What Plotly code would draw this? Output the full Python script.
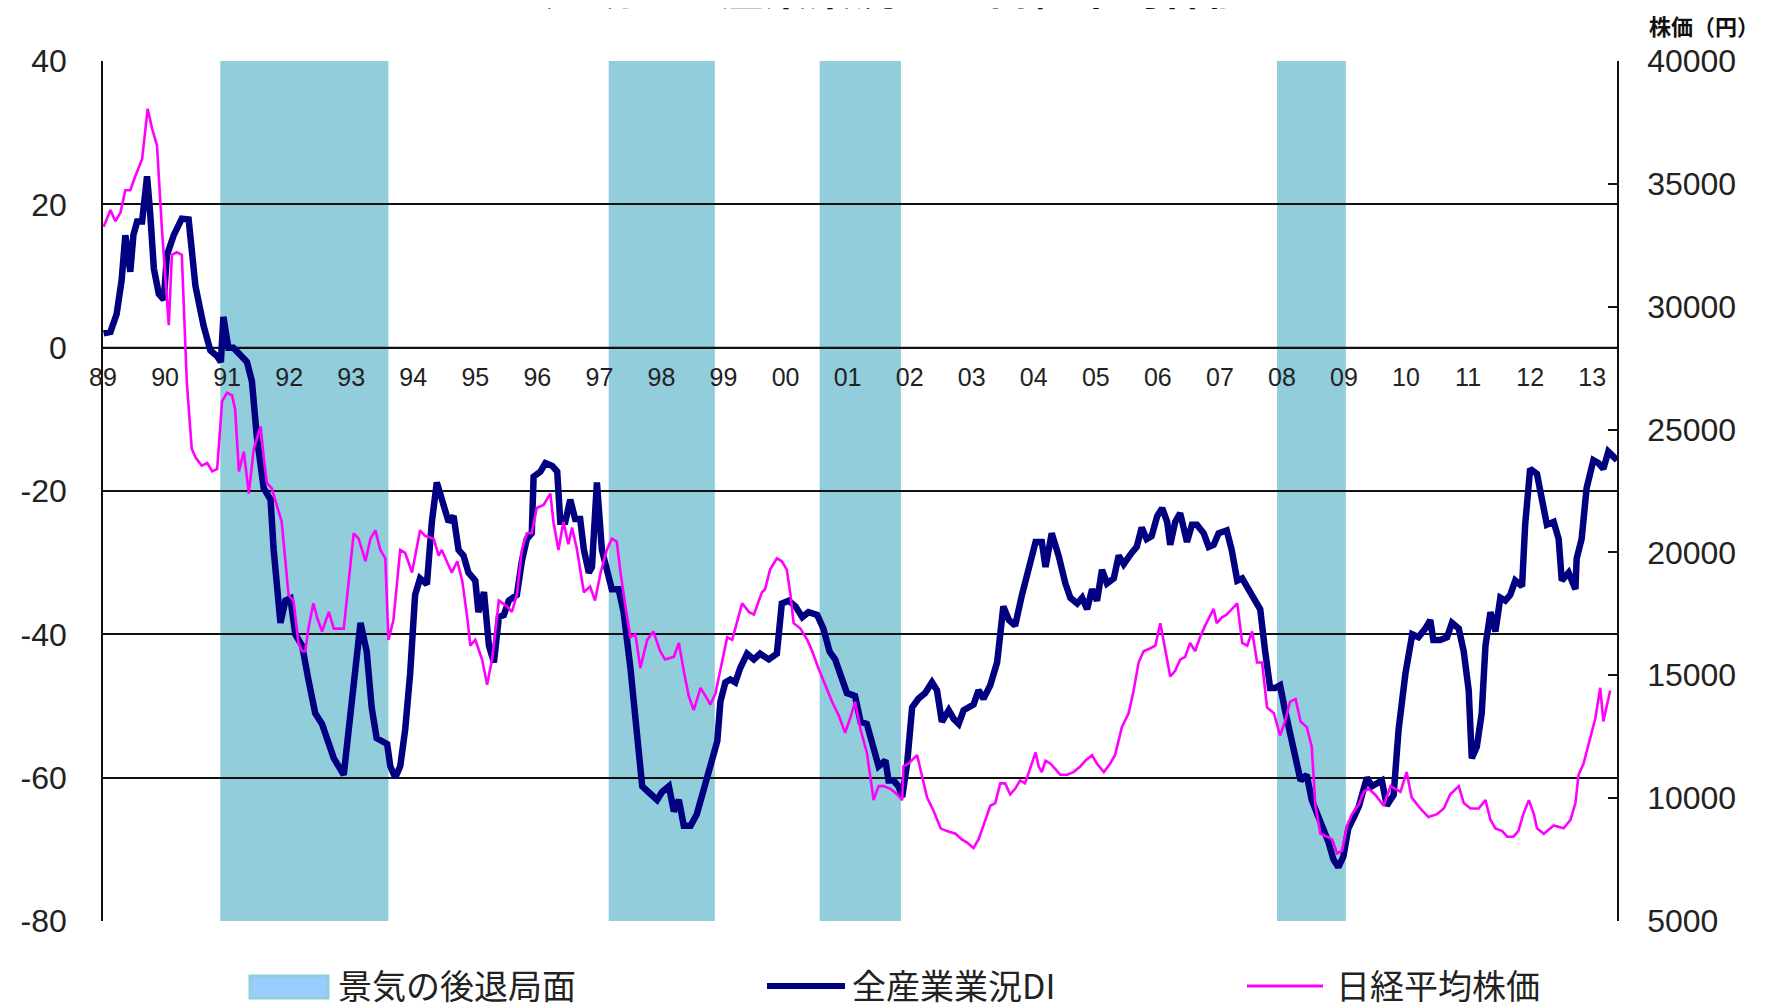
import plotly.graph_objects as go

# ---------------- data ----------------
di_year = [1989.01, 1989.12, 1989.22, 1989.30, 1989.36, 1989.44, 1989.49, 1989.55, 1989.63, 1989.71,
           1989.76, 1989.82, 1989.90, 1989.98, 1990.03, 1990.14, 1990.27, 1990.38, 1990.49, 1990.62,
           1990.73, 1990.84, 1990.90, 1990.94, 1991.02, 1991.10, 1991.21, 1991.32, 1991.40, 1991.48,
           1991.59, 1991.70, 1991.75, 1991.86, 1991.94, 1992.02, 1992.10, 1992.21, 1992.31, 1992.42,
           1992.53, 1992.72, 1992.88, 1993.01, 1993.15, 1993.25, 1993.33, 1993.41, 1993.58, 1993.63,
           1993.71, 1993.79, 1993.87, 1993.95, 1994.03, 1994.11, 1994.22, 1994.30, 1994.38, 1994.49,
           1994.57, 1994.65, 1994.73, 1994.81, 1994.89, 1995.00, 1995.05, 1995.14, 1995.22, 1995.30,
           1995.38, 1995.46, 1995.54, 1995.67, 1995.75, 1995.83, 1995.91, 1995.94, 1996.05, 1996.13,
           1996.24, 1996.32, 1996.37, 1996.45, 1996.53, 1996.61, 1996.69, 1996.75, 1996.83, 1996.88,
           1996.96, 1997.04, 1997.12, 1997.20, 1997.31, 1997.39, 1997.50, 1997.58, 1997.69, 1997.79,
           1997.93, 1998.01, 1998.12, 1998.20, 1998.28, 1998.36, 1998.47, 1998.57, 1998.68, 1998.81,
           1998.90, 1998.95, 1999.03, 1999.11, 1999.19, 1999.27, 1999.38, 1999.49, 1999.59, 1999.73,
           1999.86, 1999.94, 2000.05, 2000.16, 2000.27, 2000.37, 2000.51, 2000.61, 2000.71, 2000.80,
           2000.91, 2000.99, 2001.12, 2001.21, 2001.31, 2001.42, 2001.50, 2001.61, 2001.66, 2001.74,
           2001.82, 2001.88, 2001.96, 2002.04, 2002.14, 2002.25, 2002.36, 2002.44, 2002.52, 2002.63,
           2002.71, 2002.79, 2002.87, 2003.03, 2003.11, 2003.19, 2003.30, 2003.41, 2003.51, 2003.60,
           2003.70, 2003.81, 2003.95, 2004.03, 2004.13, 2004.19, 2004.29, 2004.40, 2004.51, 2004.59,
           2004.70, 2004.78, 2004.86, 2004.94, 2005.02, 2005.10, 2005.18, 2005.29, 2005.37, 2005.45,
           2005.58, 2005.66, 2005.74, 2005.82, 2005.90, 2005.99, 2006.07, 2006.15, 2006.20, 2006.28,
           2006.36, 2006.47, 2006.55, 2006.63, 2006.74, 2006.82, 2006.90, 2006.98, 2007.11, 2007.19,
           2007.28, 2007.36, 2007.46, 2007.54, 2007.65, 2007.73, 2007.81, 2007.89, 2007.97, 2008.05,
           2008.14, 2008.22, 2008.30, 2008.40, 2008.48, 2008.59, 2008.67, 2008.75, 2008.83, 2008.91,
           2008.99, 2009.07, 2009.16, 2009.24, 2009.32, 2009.37, 2009.45, 2009.53, 2009.61, 2009.69,
           2009.80, 2009.88, 2009.99, 2010.10, 2010.20, 2010.31, 2010.39, 2010.44, 2010.55, 2010.66,
           2010.74, 2010.85, 2010.93, 2011.01, 2011.06, 2011.14, 2011.22, 2011.28, 2011.36, 2011.44,
           2011.52, 2011.60, 2011.68, 2011.76, 2011.87, 2011.92, 2012.00, 2012.11, 2012.22, 2012.27,
           2012.38, 2012.46, 2012.51, 2012.62, 2012.73, 2012.75, 2012.83, 2012.91, 2013.02, 2013.10,
           2013.18, 2013.26, 2013.40]
di_value = [2.0, 2.2, 4.7, 9.4, 15.7, 10.6, 15.7, 17.6, 17.6, 23.9,
            18.8, 11.0, 7.5, 6.7, 12.9, 15.7, 18.0, 17.9, 8.6, 3.1,
            -0.4, -1.2, -2.0, 4.3, 0.0, 0.0, -1.0, -2.0, -4.7, -12.5,
            -19.6, -21.2, -28.2, -38.4, -35.3, -35.0, -40.0, -41.6, -46.3, -51.0,
            -52.5, -57.3, -59.6, -49.4, -38.4, -42.4, -50.2, -54.5, -55.3, -58.4,
            -60.0, -58.4, -53.3, -45.5, -34.5, -32.2, -33.0, -24.3, -18.8, -22.0,
            -24.3, -23.5, -28.2, -29.0, -31.4, -32.5, -36.9, -34.1, -41.6, -43.9,
            -37.6, -37.3, -35.3, -34.5, -29.8, -26.7, -25.9, -18.0, -17.3, -16.1,
            -16.5, -17.3, -24.3, -24.3, -21.2, -23.9, -23.9, -28.2, -31.4, -30.6,
            -18.8, -28.2, -31.4, -33.7, -33.7, -36.9, -44.7, -51.0, -61.2, -62.0,
            -63.1, -62.0, -61.2, -64.7, -63.1, -66.7, -66.7, -65.1, -61.6, -57.6,
            -54.9, -49.4, -46.7, -46.3, -46.7, -44.7, -42.7, -43.5, -42.7, -43.5,
            -42.7, -35.7, -35.3, -36.1, -37.6, -36.9, -37.3, -39.2, -42.4, -43.5,
            -46.3, -48.2, -48.6, -52.2, -52.5, -55.7, -58.4, -57.6, -60.4, -60.4,
            -61.2, -62.7, -58.0, -50.2, -49.0, -48.2, -46.7, -47.8, -52.2, -50.6,
            -51.8, -52.5, -50.6, -49.8, -47.8, -49.0, -47.1, -43.9, -36.1, -38.0,
            -38.8, -34.5, -29.4, -27.1, -27.1, -30.6, -25.9, -29.0, -32.9, -34.9,
            -35.7, -34.9, -36.5, -33.7, -35.3, -31.0, -32.9, -32.2, -29.0, -30.2,
            -28.6, -27.8, -25.1, -26.7, -26.3, -23.5, -22.4, -24.3, -27.5, -24.3,
            -23.1, -27.1, -24.7, -24.7, -25.9, -27.8, -27.5, -25.9, -25.5, -28.2,
            -32.5, -32.2, -33.7, -34.9, -36.5, -42.4, -47.5, -47.5, -47.1, -50.6,
            -54.1, -56.5, -60.4, -59.6, -63.1, -65.5, -67.1, -69.0, -71.4, -72.5,
            -71.0, -67.1, -65.5, -64.0, -61.5, -60.0, -61.2, -60.8, -60.4, -63.9,
            -62.4, -53.3, -45.5, -40.0, -40.4, -39.2, -38.0, -40.8, -40.8, -40.4,
            -38.4, -39.2, -42.4, -47.8, -57.3, -55.7, -51.0, -41.6, -36.9, -39.6,
            -34.9, -35.3, -34.5, -32.5, -33.3, -24.7, -16.9, -17.6, -22.0, -24.7,
            -24.3, -26.7, -32.5, -31.4, -33.7, -29.4, -26.7, -19.6, -15.7, -16.1,
            -16.9, -14.5, -15.7]

nikkei_year = [1989.01, 1989.12, 1989.20, 1989.28, 1989.36, 1989.44, 1989.52, 1989.63, 1989.72, 1989.79,
               1989.87, 1989.95, 1990.06, 1990.11, 1990.19, 1990.27, 1990.35, 1990.43, 1990.49, 1990.59,
               1990.68, 1990.76, 1990.84, 1990.92, 1991.00, 1991.08, 1991.13, 1991.19, 1991.27, 1991.35,
               1991.43, 1991.54, 1991.59, 1991.64, 1991.72, 1991.80, 1991.88, 1991.94, 1991.99, 1992.07,
               1992.15, 1992.21, 1992.26, 1992.31, 1992.39, 1992.45, 1992.53, 1992.64, 1992.72, 1992.88,
               1992.96, 1993.04, 1993.12, 1993.23, 1993.31, 1993.39, 1993.47, 1993.55, 1993.60, 1993.68,
               1993.79, 1993.87, 1993.98, 1994.11, 1994.19, 1994.33, 1994.41, 1994.46, 1994.54, 1994.62,
               1994.71, 1994.79, 1994.87, 1994.92, 1995.00, 1995.11, 1995.19, 1995.27, 1995.38, 1995.51,
               1995.59, 1995.67, 1995.75, 1995.83, 1995.91, 1995.99, 1996.10, 1996.21, 1996.26, 1996.34,
               1996.42, 1996.50, 1996.56, 1996.64, 1996.75, 1996.85, 1996.93, 1997.02, 1997.12, 1997.20,
               1997.28, 1997.34, 1997.42, 1997.50, 1997.58, 1997.66, 1997.77, 1997.87, 1997.98, 1998.06,
               1998.20, 1998.28, 1998.36, 1998.44, 1998.52, 1998.63, 1998.71, 1998.79, 1998.87, 1998.98,
               1999.06, 1999.14, 1999.24, 1999.30, 1999.41, 1999.49, 1999.57, 1999.62, 1999.67, 1999.75,
               1999.86, 1999.94, 2000.02, 2000.08, 2000.13, 2000.24, 2000.35, 2000.43, 2000.53, 2000.64,
               2000.75, 2000.86, 2000.96, 2001.04, 2001.12, 2001.21, 2001.31, 2001.42, 2001.50, 2001.58,
               2001.69, 2001.80, 2001.88, 2001.90, 2001.98, 2002.12, 2002.20, 2002.28, 2002.39, 2002.50,
               2002.60, 2002.74, 2002.84, 2002.92, 2003.03, 2003.11, 2003.19, 2003.30, 2003.38, 2003.46,
               2003.54, 2003.62, 2003.70, 2003.78, 2003.86, 2003.95, 2004.03, 2004.08, 2004.13, 2004.19,
               2004.27, 2004.35, 2004.43, 2004.54, 2004.64, 2004.75, 2004.83, 2004.94, 2005.02, 2005.13,
               2005.23, 2005.31, 2005.42, 2005.53, 2005.61, 2005.69, 2005.77, 2005.88, 2005.96, 2006.04,
               2006.12, 2006.20, 2006.28, 2006.36, 2006.44, 2006.52, 2006.60, 2006.68, 2006.76, 2006.85,
               2006.90, 2006.95, 2007.03, 2007.11, 2007.19, 2007.28, 2007.36, 2007.44, 2007.52, 2007.60,
               2007.68, 2007.76, 2007.87, 2007.97, 2008.05, 2008.13, 2008.22, 2008.30, 2008.40, 2008.48,
               2008.54, 2008.62, 2008.73, 2008.81, 2008.89, 2008.97, 2009.05, 2009.13, 2009.24, 2009.32,
               2009.40, 2009.50, 2009.64, 2009.75, 2009.83, 2009.91, 2010.01, 2010.09, 2010.23, 2010.36,
               2010.50, 2010.61, 2010.71, 2010.85, 2010.93, 2011.04, 2011.17, 2011.28, 2011.36, 2011.44,
               2011.55, 2011.63, 2011.73, 2011.81, 2011.89, 2011.98, 2012.06, 2012.11, 2012.22, 2012.38,
               2012.54, 2012.65, 2012.73, 2012.78, 2012.86, 2012.94, 2013.05, 2013.13, 2013.18, 2013.29]
nikkei_value = [33250, 33940, 33480, 33820, 34740, 34740, 35310, 36000, 38060, 37260,
                36570, 33140, 29250, 32110, 32220, 32110, 26960, 24220, 23870, 23530,
                23640, 23300, 23400, 26160, 26500, 26390, 25820, 23300, 24100, 22390,
                24220, 25130, 23870, 22840, 22610, 21930, 21240, 19640, 18270, 18040,
                16320, 15980, 15980, 16900, 17930, 17350, 16780, 17580, 16900, 16900,
                18950, 20780, 20560, 19640, 20560, 20900, 20100, 19760, 16440, 17240,
                20100, 19980, 19180, 20900, 20670, 20560, 19870, 20100, 19640, 19180,
                19640, 18840, 17350, 16210, 16440, 15640, 14610, 15640, 18040, 17810,
                17580, 18270, 20100, 20780, 20780, 21810, 21930, 22390, 21240, 20100,
                21240, 20330, 21010, 20100, 18380, 18610, 18040, 19180, 20100, 20560,
                20440, 19180, 17810, 16550, 16670, 15290, 16440, 16780, 15980, 15640,
                15750, 16320, 15180, 14150, 13580, 14490, 14150, 13810, 14260, 15520,
                16550, 16440, 17350, 17930, 17580, 17470, 18040, 18380, 18500, 19300,
                19760, 19640, 19300, 18270, 17120, 16900, 16440, 15980, 15290, 14610,
                13920, 13350, 12660, 13240, 13920, 12780, 11860, 9920, 10490, 10490,
                10380, 10150, 9920, 11290, 11400, 11750, 10950, 10030, 9460, 8770,
                8660, 8550, 8320, 8200, 7970, 8320, 8890, 9690, 9800, 10600,
                10600, 10150, 10380, 10720, 10600, 11290, 11860, 11290, 11060, 11520,
                11400, 11180, 10950, 10950, 11060, 11290, 11520, 11750, 11400, 11060,
                11400, 11750, 12890, 13460, 14380, 15520, 15980, 16100, 16210, 17120,
                15980, 14950, 15180, 15640, 15750, 16320, 15980, 16550, 17010, 17470,
                17700, 17120, 17350, 17470, 17700, 17930, 16320, 16210, 16780, 15520,
                15520, 13690, 13460, 12550, 13120, 13920, 14040, 13120, 12890, 12090,
                9690, 8550, 8430, 8320, 7750, 7860, 8890, 9350, 9750, 10260,
                10380, 10150, 9690, 10490, 10380, 10260, 11060, 10030, 9580, 9230,
                9350, 9580, 10150, 10490, 9800, 9580, 9580, 9920, 9120, 8770,
                8660, 8430, 8430, 8660, 9350, 9920, 9350, 8770, 8550, 8890,
                8770, 9120, 9800, 10950, 11400, 12210, 13240, 14490, 13120, 14380]

# recession periods (start, end) in decimal years as drawn
recession_start = [1990.89, 1997.15, 2000.55, 2007.92]
recession_end = [1993.60, 1998.86, 2001.86, 2009.03]

year_ticks = list(range(1989, 2014))
year_labels = ["89", "90", "91", "92", "93", "94", "95", "96", "97", "98", "99", "00", "01",
               "02", "03", "04", "05", "06", "07", "08", "09", "10", "11", "12", "13"]

di_ticks = [-80, -60, -40, -20, 0, 20, 40]
di_labels = ["-80", "-60", "-40", "-20", "0", "20", "40"]
nikkei_ticks = [5000, 10000, 15000, 20000, 25000, 30000, 35000, 40000]
nikkei_labels = ["5000", "10000", "15000", "20000", "25000", "30000", "35000", "40000"]

title_text = "短観の全産業業況DIと日経平均株価"
right_axis_title = "株価（円）"
legend_names = ["景気の後退局面", "全産業業況DI", "日経平均株価"]

# ---------------- styling ----------------
OFF = 8                      # page body margin of the html page
W, H = 1769 - OFF, 1008 - OFF
ML, MR, MT, MB = 103 - OFF, 152, 61 - OFF, 87
PW, PH = W - ML - MR, H - MT - MB
FONT = "Noto Sans CJK JP"
NUMFONT = "Liberation Sans"
NAVY = "#000080"
MAGENTA = "#FF00FF"
BAND = "#92CDDC"
TXT = "#222222"


def px_x(px):
    return (px - OFF - ML) / PW


def px_y(py):
    return (H - MB - (py - OFF)) / PH


fig = go.Figure()
fig.add_trace(go.Scatter(x=di_year, y=di_value, mode="lines", name=legend_names[1],
                         line=dict(color=NAVY, width=6.5), yaxis="y", showlegend=False))
fig.add_trace(go.Scatter(x=nikkei_year, y=nikkei_value, mode="lines", name=legend_names[2],
                         line=dict(color=MAGENTA, width=2.6), yaxis="y2", showlegend=False))

shapes = []
for s, e in zip(recession_start, recession_end):
    shapes.append(dict(type="rect", xref="x", yref="paper", x0=s, x1=e, y0=0, y1=1,
                       fillcolor=BAND, line=dict(width=0), layer="between"))
# zero line (category axis crossing)
shapes.append(dict(type="line", xref="paper", yref="y", x0=0, x1=1, y0=0, y1=0,
                   line=dict(color="#111111", width=2), layer="between"))

# manual legend
ly = px_y(986)
shapes.append(dict(type="rect", xref="paper", yref="paper", x0=px_x(250), x1=px_x(328),
                   y0=px_y(998), y1=px_y(976), fillcolor="#99CCFF",
                   line=dict(color=BAND, width=3)))
shapes.append(dict(type="line", xref="paper", yref="paper", x0=px_x(767), x1=px_x(845),
                   y0=ly, y1=ly, line=dict(color=NAVY, width=6)))
shapes.append(dict(type="line", xref="paper", yref="paper", x0=px_x(1247), x1=px_x(1323),
                   y0=ly, y1=ly, line=dict(color=MAGENTA, width=3)))

annotations = []
for txt, xpx in zip(legend_names, [336, 850, 1334]):
    annotations.append(dict(text=txt, xref="paper", yref="paper", x=px_x(xpx), y=px_y(984),
                            xanchor="left", yanchor="middle", showarrow=False,
                            font=dict(family=FONT, size=34, color=TXT)))
annotations.append(dict(text="<b>" + right_axis_title + "</b>", xref="paper", yref="paper",
                        x=px_x(1704), y=px_y(25), xanchor="center", yanchor="middle",
                        showarrow=False, font=dict(family=FONT, size=22, color="#111111")))
annotations.append(dict(text="<b>" + title_text + "</b>", xref="paper", yref="paper",
                        x=px_x(897), y=px_y(20), xanchor="center", yanchor="bottom",
                        showarrow=False, font=dict(family=FONT, size=44, color="#111111")))

fig.update_layout(
    width=W, height=H,
    margin=dict(l=ML, r=MR, t=MT, b=MB, autoexpand=False),
    paper_bgcolor="white", plot_bgcolor="white",
    showlegend=False,
    shapes=shapes, annotations=annotations,
    xaxis=dict(range=[1989.0, 2013.4], tickmode="array", tickvals=year_ticks, ticktext=year_labels,
               showgrid=False, zeroline=False, showline=False, ticks="",
               anchor="free", position=2 / 3, ticklabelstandoff=12,
               tickfont=dict(family=NUMFONT, size=25, color=TXT)),
    yaxis=dict(range=[-80, 40], tickmode="array", tickvals=di_ticks, ticktext=di_labels,
               showgrid=True, gridcolor="#111111", gridwidth=1.5, zeroline=False,
               showline=True, linecolor="#111111", linewidth=1.5, ticks="",
               ticklabelstandoff=28, tickfont=dict(family=NUMFONT, size=32, color=TXT)),
    yaxis2=dict(range=[5000, 40000], tickmode="array", tickvals=nikkei_ticks, ticktext=nikkei_labels,
                overlaying="y", side="right", showgrid=False, zeroline=False,
                showline=True, linecolor="#111111", linewidth=1.5,
                ticks="inside", ticklen=9, tickwidth=1.5, tickcolor="#111111",
                ticklabelstandoff=22, tickfont=dict(family=NUMFONT, size=32, color=TXT)),
)

fig.write_html("out.html")
